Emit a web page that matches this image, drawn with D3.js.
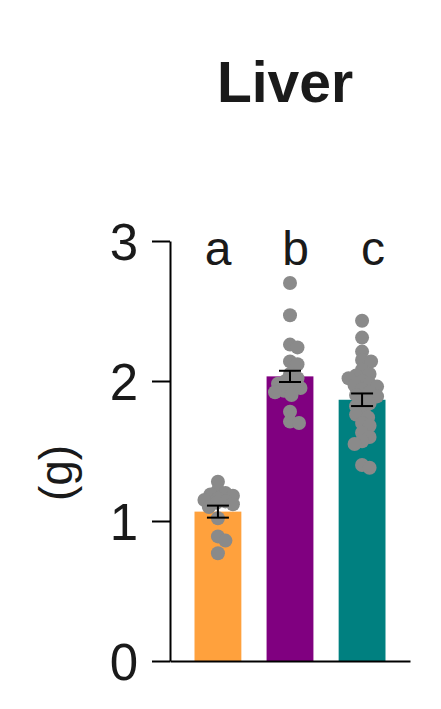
<!DOCTYPE html>
<html>
<head>
<meta charset="utf-8">
<script src="https://cdn.jsdelivr.net/npm/d3@7"></script>
<style>
  body { margin: 0; background: #fff; }
  svg text { font-family: "Liberation Sans", Arial, sans-serif; fill: #1a1a1a; }
</style>
</head>
<body>
<div id="root"></div>
<script>
// data
let groups = ['g1', 'g2', 'g3']
let letters = ['a', 'b', 'c']
let means = [1.067, 2.033, 1.866]
let sems = [0.043, 0.04, 0.045]
let colors = ['#ffa13d', '#800080', '#008080']
let yTicks = [0, 1, 2, 3]
let dotsOrange = [1.28, 1.22, 1.20, 1.19, 1.18, 1.16, 1.15, 1.14, 1.13, 1.12, 1.10, 1.02, 0.89, 0.86, 0.77]
let dotsPurple = [2.70, 2.47, 2.26, 2.24, 2.14, 2.12, 2.05, 2.02, 2.00, 1.98, 1.96, 1.95, 1.93, 1.92, 1.90, 1.78, 1.71, 1.70]
let dotsTeal = [2.43, 2.31, 2.21, 2.15, 2.14, 2.08, 2.05, 2.04, 2.02, 2.00, 1.98, 1.97, 1.96, 1.94, 1.92,
                1.90, 1.89, 1.86, 1.84, 1.82, 1.79, 1.76, 1.74, 1.70, 1.68, 1.63, 1.60, 1.57, 1.55, 1.40, 1.38]
let dots = [dotsOrange, dotsPurple, dotsTeal]

let W = 441, H = 709
document.getElementById('root').innerHTML = `<svg width=${W} height=${H}></svg>`
let svg = d3.select('svg')

let y = d3.scaleLinear().domain([0, 3]).range([661, 241])
let x = d3.scaleBand().domain(groups).range([170, 410]).paddingInner(0.35).paddingOuter(0.34)
let xl = d3.scalePoint().domain(groups).range([218, 373])

// title
svg.append('text')
   .attr('x', 285).attr('y', 102)
   .attr('text-anchor', 'middle')
   .attr('font-size', 57).attr('font-weight', 'bold')
   .text('Liver')

// y label
svg.append('text')
   .attr('transform', 'translate(72,473) rotate(-90)')
   .attr('text-anchor', 'middle')
   .attr('font-size', 46)
   .text('(g)')

// bars
svg.selectAll('.bar')
   .data(groups).enter()
   .append('rect')
   .attr('class', 'bar')
   .attr('x', d => x(d))
   .attr('width', x.bandwidth())
   .attr('y', (d, i) => y(means[i]))
   .attr('height', (d, i) => y(0) - y(means[i]))
   .attr('fill', (d, i) => colors[i])

// simple beeswarm so the dots spread sideways (dots overlap a bit, as in the original)
function swarm(vals, gap, maxDx) {
  let placed = []
  vals.slice().sort((a, b) => b - a).forEach(v => {
    let py = y(v)
    let best = null, bestHit = Infinity
    for (let k = 0; k < 40; k++) {
      let cand = k === 0 ? 0 : (k % 2 ? 1 : -1) * Math.ceil(k / 2) * 1.5
      if (Math.abs(cand) > maxDx) continue
      let hit = placed.filter(p => (cand - p.dx) ** 2 + (py - p.y) ** 2 < gap * gap).length
      if (hit === 0) { best = cand; break }
      if (hit < bestHit) { bestHit = hit; best = cand }
    }
    placed.push({ v: v, y: py, dx: best })
  })
  return placed
}

groups.forEach((g, i) => {
  let cx = x(g) + x.bandwidth() / 2
  svg.append('g').selectAll('circle')
     .data(swarm(dots[i], 8, 17)).enter()
     .append('circle')
     .attr('cx', d => cx + d.dx)
     .attr('cy', d => y(d.v))
     .attr('r', 7)
     .attr('fill', '#8a8a8a')
})

// error bars
let cap = 11
groups.forEach((g, i) => {
  let cx = x(g) + x.bandwidth() / 2
  let eg = svg.append('g').attr('stroke', '#000').attr('stroke-width', 2)
  eg.append('line').attr('x1', cx).attr('x2', cx)
    .attr('y1', y(means[i] - sems[i])).attr('y2', y(means[i] + sems[i]))
  ;[means[i] - sems[i], means[i] + sems[i]].forEach(v => {
    eg.append('line').attr('x1', cx - cap).attr('x2', cx + cap)
      .attr('y1', y(v)).attr('y2', y(v))
  })
})

// significance letters
svg.selectAll('.let')
   .data(groups).enter()
   .append('text')
   .attr('class', 'let')
   .attr('x', d => xl(d))
   .attr('y', 265)
   .attr('text-anchor', 'middle')
   .attr('font-size', 48)
   .text((d, i) => letters[i])

// axes
let yAxis = svg.append('g')
   .attr('transform', 'translate(170,0)')
   .call(d3.axisLeft(y).tickValues(yTicks).tickSize(18).tickSizeOuter(0).tickPadding(14).tickFormat(d3.format('d')))
yAxis.selectAll('text').attr('font-size', 51).attr('font-family', null).attr('dy', '0.36em')
yAxis.selectAll('line, path').attr('stroke', '#000').attr('stroke-width', 2)

let xAxis = svg.append('g')
   .attr('transform', `translate(0,${y(0)})`)
   .call(d3.axisBottom(x).tickSize(0).tickSizeOuter(0).tickFormat(''))
xAxis.selectAll('path').attr('stroke', '#000').attr('stroke-width', 2)
</script>
</body>
</html>
